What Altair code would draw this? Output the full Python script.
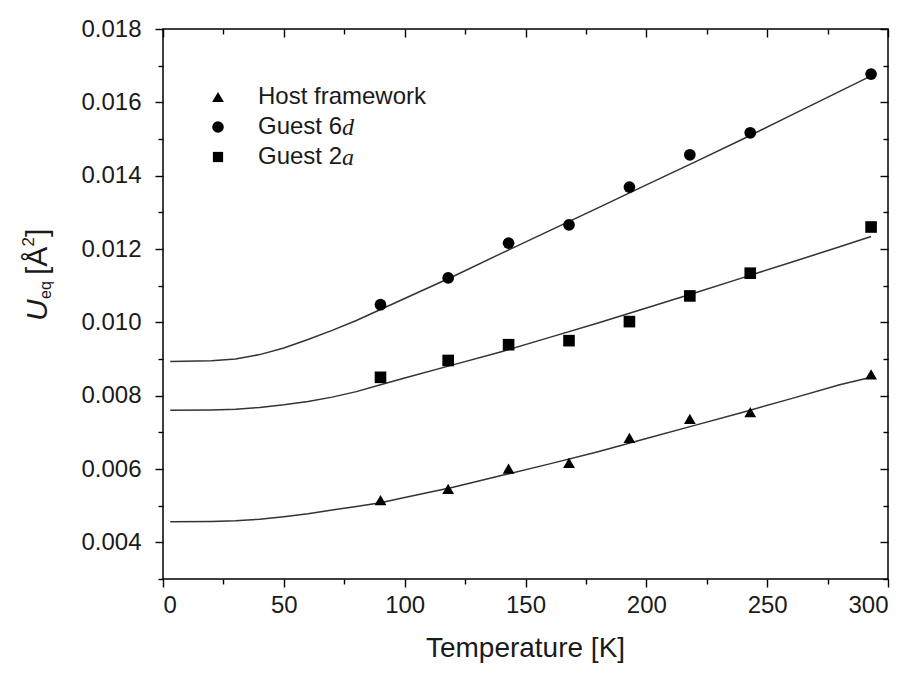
import altair as alt
import pandas as pd

# ---------------- data ----------------
SERIES = ["Host framework", "Guest 6d", "Guest 2a"]
SHAPES = ["triangle-up", "circle", "square"]

T_MEAS = [90, 118, 143, 168, 193, 218, 243, 293]
U_HOST = [0.00515, 0.00546, 0.00601, 0.00617, 0.00685, 0.00737, 0.00755, 0.00858]
U_6D = [0.01048, 0.01121, 0.01216, 0.01266, 0.01369, 0.01457, 0.01517, 0.01677]
U_2A = [0.00850, 0.00896, 0.00939, 0.00950, 0.01002, 0.01072, 0.01134, 0.01260]

T_FIT = [3, 20, 30, 40, 50, 60, 70, 80, 90, 100, 120, 140, 160, 180, 200, 220, 240, 260, 280, 293]
FIT_HOST = [0.00456, 0.00457, 0.00459, 0.00463, 0.00470, 0.00478, 0.00488, 0.00498, 0.00508, 0.00522,
            0.00550, 0.00582, 0.00614, 0.00647, 0.00683, 0.00719, 0.00755, 0.00792, 0.00830, 0.00850]
FIT_6D = [0.00893, 0.00895, 0.00900, 0.00912, 0.00930, 0.00953, 0.00978, 0.01005, 0.01035, 0.01065,
          0.01125, 0.01188, 0.01250, 0.01312, 0.01375, 0.01437, 0.01500, 0.01565, 0.01630, 0.01672]
FIT_2A = [0.00760, 0.00761, 0.00763, 0.00768, 0.00775, 0.00784, 0.00796, 0.00811, 0.00830, 0.00848,
          0.00884, 0.00920, 0.00959, 0.00998, 0.01039, 0.01080, 0.01122, 0.01164, 0.01206, 0.01234]

X_TICKS = [0, 50, 100, 150, 200, 250, 300]
X_MINOR = [25, 75, 125, 175, 225, 275]
Y_TICKS = [0.004, 0.006, 0.008, 0.010, 0.012, 0.014, 0.016, 0.018]
Y_MINOR = [0.003, 0.005, 0.007, 0.009, 0.011, 0.013, 0.015, 0.017]

X_TITLE = "Temperature [K]"
LEGEND_MAIN = ["Host framework", "Guest 6", "Guest 2"]
LEGEND_ITALIC = ["", "d", "a"]

# ---------------- tables ----------------
pts = pd.DataFrame({
    "T": T_MEAS * 3,
    "U": U_HOST + U_6D + U_2A,
    "series": [s for s in SERIES for _ in T_MEAS],
})
fit = pd.DataFrame({
    "T": T_FIT * 3,
    "U": FIT_HOST + FIT_6D + FIT_2A,
    "series": [s for s in SERIES for _ in T_FIT],
})

W, H = 725, 550
FONT = "Liberation Sans"
LINE_COLOR = "#3a302c"

xs = alt.Scale(domain=[0, 300], nice=False, zero=False)
ys = alt.Scale(domain=[0.003, 0.018], nice=False, zero=False)


def ax(orient, values, size, offset=0, labels=False, fmt=None, pad=0):
    kw = dict(orient=orient, values=values, tickSize=size, offset=offset, labels=labels,
              title=None, domain=False, grid=False, tickColor="black", tickWidth=1.4)
    if labels:
        kw.update(format=fmt, labelPadding=pad, labelFontSize=24, labelFont=FONT,
                  labelColor="#1a1a1a")
    return alt.Axis(**kw)


lines = alt.Chart(fit).mark_line(color=LINE_COLOR, strokeWidth=1.5).encode(
    x=alt.X("T:Q", scale=xs, axis=ax("bottom", X_TICKS, 8, labels=True, fmt="d", pad=6)),
    y=alt.Y("U:Q", scale=ys, axis=ax("left", Y_TICKS, 8, labels=True, fmt=".3f", pad=14)),
    detail="series:N",
)

points = alt.Chart(pts).mark_point(filled=True, opacity=1, color="black").encode(
    x=alt.X("T:Q", scale=xs, axis=ax("bottom", X_MINOR, 5)),
    y=alt.Y("U:Q", scale=ys, axis=ax("left", Y_MINOR, 5)),
    shape=alt.Shape("series:N", scale=alt.Scale(domain=SERIES, range=SHAPES), legend=None),
    size=alt.Size("series:N", scale=alt.Scale(domain=SERIES, range=[140, 135, 105]), legend=None),
)

top_right_major = alt.Chart(pts).mark_point(opacity=0).encode(
    x=alt.X("T:Q", scale=xs, axis=ax("top", X_TICKS, 8, offset=-8)),
    y=alt.Y("U:Q", scale=ys, axis=ax("right", Y_TICKS, 8, offset=-8)),
)
top_right_minor = alt.Chart(pts).mark_point(opacity=0).encode(
    x=alt.X("T:Q", scale=xs, axis=ax("top", X_MINOR, 5, offset=-5)),
    y=alt.Y("U:Q", scale=ys, axis=ax("right", Y_MINOR, 5, offset=-5)),
)

one = pd.DataFrame({"k": [0]})


def txt(s, x, y, size=24, style="normal", font=FONT, angle=0, align="left", baseline="middle"):
    kw = dict(fontSize=size, font=font, fontStyle=style, align=align, baseline=baseline,
              color="#1a1a1a")
    if angle:
        kw["angle"] = angle
    return alt.Chart(pd.DataFrame({"t": [s]})).mark_text(**kw).encode(
        text="t:N", x=alt.value(x), y=alt.value(y))


# y-axis title: U_eq [Å²] (rotated)
ytitle = [
    txt("U", -116, 292, size=30, style="italic", angle=270, baseline="alphabetic"),
    txt("eq", -112, 270, size=16, angle=270, baseline="alphabetic"),
    txt("[Å", -116, 246, size=30, angle=270, baseline="alphabetic"),
    txt("2", -129, 217.5, size=17, angle=270, baseline="alphabetic"),
    txt("]", -116, 208, size=30, angle=270, baseline="alphabetic"),
]

xtitle = txt(X_TITLE, W / 2, 620, size=28, align="center")

legend = []
LEG_Y = [68, 98, 128]
for i in range(3):
    legend.append(
        alt.Chart(one).mark_point(filled=True, opacity=1, color="black",
                                  shape=SHAPES[i], size=[140, 135, 105][i]).encode(
            x=alt.value(55), y=alt.value(LEG_Y[i]))
    )
    legend.append(txt(LEGEND_MAIN[i], 95, LEG_Y[i]))
    if LEGEND_ITALIC[i]:
        legend.append(txt(LEGEND_ITALIC[i], 95 + 84, LEG_Y[i] + 1, style="italic",
                          font="Liberation Serif"))

chart = alt.layer(
    lines, points, top_right_major, top_right_minor, *ytitle, xtitle, *legend
).resolve_axis(x="independent", y="independent").properties(
    width=W, height=H,
    autosize=alt.AutoSizeParams(type="none"),
    padding={"left": 155, "top": 21, "right": 17, "bottom": 87},
).configure_view(stroke="black", strokeWidth=1.5)

chart.save("out.html", embed_options={"renderer": "svg", "actions": False})
